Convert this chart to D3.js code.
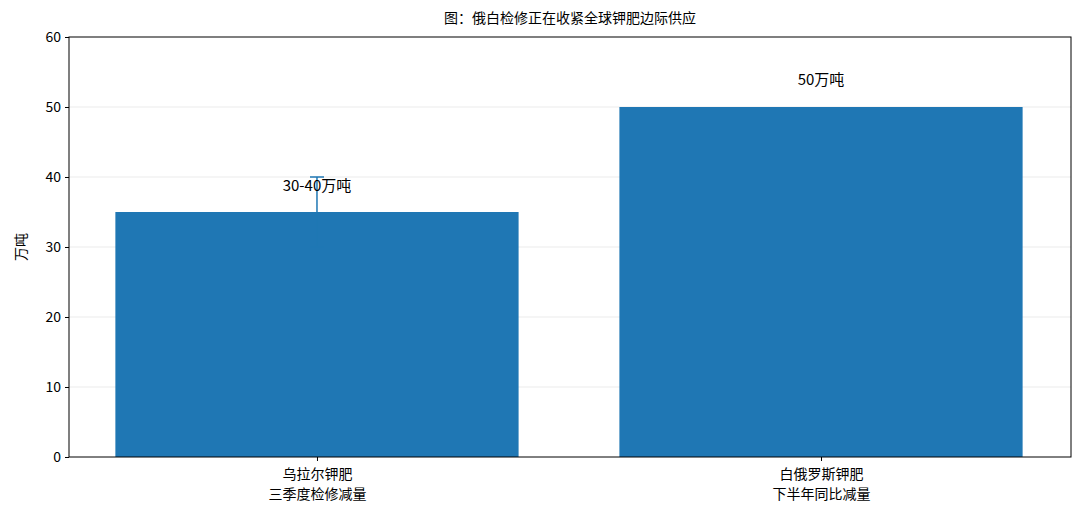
<!DOCTYPE html>
<html><head><meta charset="utf-8">
<script src="https://cdn.jsdelivr.net/npm/d3@7"></script>
<style>body{margin:0;background:#fff}text{font-family:"Noto Sans CJK SC","Noto Sans",sans-serif}</style>
</head><body>
<script>
const categories = [['乌拉尔钾肥', '三季度检修减量'], ['白俄罗斯钾肥', '下半年同比减量']]
const values = [35, 50]
const errors = [5, 0]
const barLabels = ['30-40万吨', '50万吨']
const yTicks = [0, 10, 20, 30, 40, 50, 60]

const width = 1080
const height = 521
const m = { left: 69, right: 1071, top: 37, bottom: 457 }

const svg = d3.select('body').append('svg').attr('width', width).attr('height', height)

const x = d3.scaleLinear().domain([-0.492, 1.496]).range([m.left, m.right])
const y = d3.scaleLinear().domain([0, 60]).range([m.bottom, m.top])
const bw = x(0.8) - x(0)

// grid
svg.append('g').selectAll('line').data(yTicks.slice(1, -1)).join('line')
  .attr('x1', m.left).attr('x2', m.right)
  .attr('y1', d => y(d)).attr('y2', d => y(d))
  .attr('stroke', '#e6e6e6').attr('stroke-width', 0.8)

svg.append('g').selectAll('rect').data(values).join('rect')
  .attr('x', (d, i) => x(i) - bw / 2).attr('width', bw)
  .attr('y', d => y(d)).attr('height', d => y(0) - y(d))
  .attr('fill', '#1f77b4')

// error bars
const eb = svg.append('g').selectAll('g').data(values.map((v, i) => ({ v, e: errors[i], i })).filter(d => d.e > 0)).join('g')
eb.append('line').attr('x1', d => x(d.i)).attr('x2', d => x(d.i))
  .attr('y1', d => y(d.v - d.e)).attr('y2', d => y(d.v + d.e))
  .attr('stroke', '#1f77b4').attr('stroke-width', 1.5)
eb.append('line').attr('x1', d => x(d.i) - 7).attr('x2', d => x(d.i) + 7)
  .attr('y1', d => y(d.v + d.e)).attr('y2', d => y(d.v + d.e))
  .attr('stroke', '#1f77b4').attr('stroke-width', 1.5)
eb.append('line').attr('x1', d => x(d.i) - 7).attr('x2', d => x(d.i) + 7)
  .attr('y1', d => y(d.v - d.e)).attr('y2', d => y(d.v - d.e))
  .attr('stroke', '#1f77b4').attr('stroke-width', 1.5)

svg.append('g').selectAll('text').data(barLabels).join('text')
  .attr('x', (d, i) => x(i)).attr('y', (d, i) => y(values[i] + errors[i]) - 2 - (i === 0 ? -16 : 20))
  .attr('text-anchor', 'middle').attr('font-size', 15).attr('fill', '#000').text(d => d)

// axes
const yAxis = svg.append('g').attr('transform', `translate(${m.left},0)`)
  .call(d3.axisLeft(y).tickValues(yTicks).tickSize(4).tickPadding(4))
yAxis.select('.domain').remove()
yAxis.selectAll('text').attr('font-size', 14).attr('fill', '#000')

const xAxis = svg.append('g').attr('transform', `translate(0,${m.bottom})`)
  .call(d3.axisBottom(x).tickValues([0, 1]).tickSize(4).tickFormat(''))
xAxis.select('.domain').remove()
xAxis.selectAll('.tick').each(function (d) {
  const t = d3.select(this).append('text').attr('fill', '#000').attr('font-size', 14).attr('text-anchor', 'middle')
  categories[d].forEach((s, k) => t.append('tspan').attr('x', 0).attr('y', 22 + k * 20).text(s))
})

svg.append('rect').attr('x', m.left).attr('y', m.top).attr('width', m.right - m.left).attr('height', m.bottom - m.top)
  .attr('fill', 'none').attr('stroke', '#000').attr('stroke-width', 1)

svg.append('text').attr('x', (m.left + m.right) / 2).attr('y', 23).attr('text-anchor', 'middle')
  .attr('font-size', 14).text('图：俄白检修正在收紧全球钾肥边际供应')
svg.append('text').attr('transform', `translate(26,${(m.top + m.bottom) / 2}) rotate(-90)`)
  .attr('text-anchor', 'middle').attr('font-size', 14).text('万吨')
</script>
</body></html>
